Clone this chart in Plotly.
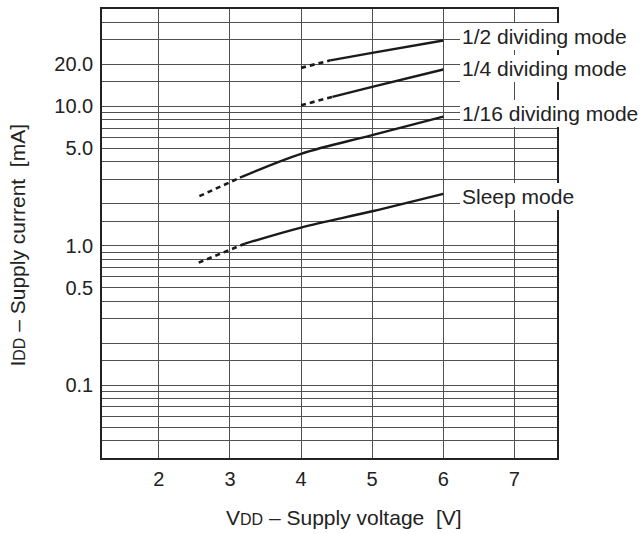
import math
import plotly.graph_objects as go

# ---- data ----
half_v_dash = [4.0, 4.41]
half_i_dash = [18.9, 21.4]
half_v_solid = [4.41, 5.0, 6.0]
half_i_solid = [21.4, 24.2, 29.7]

quarter_v_dash = [4.0, 4.44]
quarter_i_dash = [10.2, 11.7]
quarter_v_solid = [4.44, 5.0, 6.0]
quarter_i_solid = [11.7, 13.8, 18.4]

sixteenth_v_dash = [2.57, 3.14]
sixteenth_i_dash = [2.27, 3.08]
sixteenth_v_solid = [3.14, 4.0, 5.0, 6.0]
sixteenth_i_solid = [3.08, 4.57, 6.22, 8.45]

sleep_v_dash = [2.56, 3.21]
sleep_i_dash = [0.757, 1.035]
sleep_v_solid = [3.21, 4.0, 5.0, 6.0]
sleep_i_solid = [1.035, 1.35, 1.77, 2.36]

mode_labels = ["1/2 dividing mode", "1/4 dividing mode", "1/16 dividing mode", "Sleep mode"]
label_currents = [31.6, 18.7, 8.9, 2.27]

x_ticks = [2, 3, 4, 5, 6, 7]
y_grid = [0.04, 0.05, 0.06, 0.07, 0.08, 0.09, 0.1, 0.15, 0.2, 0.3, 0.4, 0.5, 0.6,
          0.7, 0.8, 0.9, 1.0, 1.5, 2, 3, 4, 5, 6, 7, 8, 9, 10, 15, 20, 30, 40]
y_labelled = {0.1: "0.1", 0.5: "0.5", 1.0: "1.0", 5: "5.0", 10: "10.0", 20: "20.0"}
y_ticktext = [y_labelled.get(v, "") for v in y_grid]

x_range = [1.2, 7.6]
y_range = [0.03, 50]

# ---- figure ----
fig = go.Figure()
line_color = "#1a1a1a"
series = [
    (half_v_dash, half_i_dash, half_v_solid, half_i_solid),
    (quarter_v_dash, quarter_i_dash, quarter_v_solid, quarter_i_solid),
    (sixteenth_v_dash, sixteenth_i_dash, sixteenth_v_solid, sixteenth_i_solid),
    (sleep_v_dash, sleep_i_dash, sleep_v_solid, sleep_i_solid),
]
for vd, idash, vs, isol in series:
    fig.add_trace(go.Scatter(x=vd, y=idash, mode="lines",
                             line=dict(color=line_color, width=2.6, dash="5px,4px"),
                             showlegend=False, hoverinfo="skip"))
    fig.add_trace(go.Scatter(x=vs, y=isol, mode="lines",
                             line=dict(color=line_color, width=2.4, shape="spline"),
                             showlegend=False))

font_family = "Liberation Sans, Arial, sans-serif"
text_color = "#222222"

for label, cur in zip(mode_labels, label_currents):
    fig.add_annotation(x=6.23, y=math.log10(cur), xref="x", yref="y",
                       text=label, showarrow=False, xanchor="left", yanchor="middle",
                       bgcolor="white", borderpad=2, borderwidth=0,
                       font=dict(family=font_family, size=21, color=text_color))

fig.add_annotation(xref="paper", yref="paper", x=0.532, y=-0.133,
                   text="V<span style='font-size:16px'>DD</span> \u2013 Supply voltage \u00a0[V]",
                   showarrow=False, xanchor="center", yanchor="middle",
                   font=dict(family=font_family, size=21, color=text_color))
fig.add_annotation(xref="paper", yref="paper", x=-0.186, y=0.474,
                   text="I<span style='font-size:16px'>DD</span> \u2013 Supply current \u00a0[mA]",
                   showarrow=False, xanchor="center", yanchor="middle", textangle=-90,
                   font=dict(family=font_family, size=21, color=text_color))

grid_color = "#505050"
fig.update_xaxes(range=x_range, tickvals=x_ticks, showgrid=True, gridcolor=grid_color,
                 gridwidth=1, zeroline=False, showline=True, linecolor="#222", linewidth=1.5,
                 mirror=True, ticks="", ticklabelstandoff=2,
                 tickfont=dict(family=font_family, size=20, color=text_color))
fig.update_yaxes(type="log", range=[math.log10(y_range[0]), math.log10(y_range[1])],
                 tickvals=y_grid, ticktext=y_ticktext, showgrid=True, gridcolor=grid_color,
                 gridwidth=1, zeroline=False, showline=True, linecolor="#222", linewidth=1.5,
                 mirror=True, ticks="", ticklabelstandoff=3,
                 tickfont=dict(family=font_family, size=20, color=text_color))

fig.update_layout(width=640, height=534, margin=dict(l=102, r=83, t=7, b=76),
                  plot_bgcolor="white", paper_bgcolor="white", showlegend=False)

fig.write_html("out.html", config={"displayModeBar": False},
               post_script="document.body.style.margin='0';document.body.style.overflow='hidden';")
